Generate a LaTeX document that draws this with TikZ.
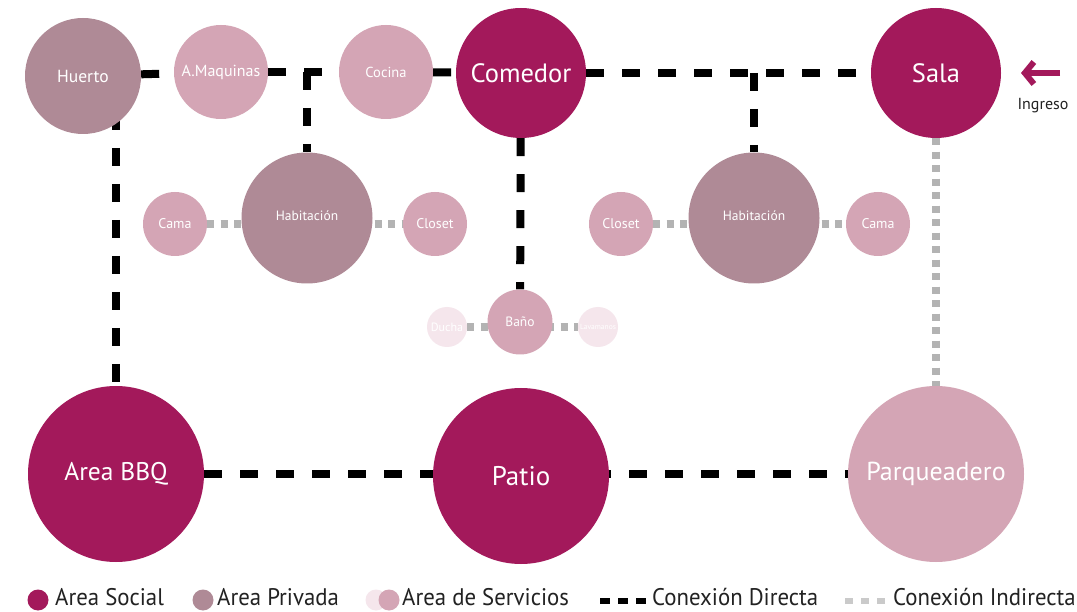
\documentclass[tikz,border=0pt]{standalone}
\usepackage{fontspec}
\setmainfont{PT Sans}
\newfontfamily\legfont[FakeStretch=0.95]{PT Sans}
\usetikzlibrary{arrows.meta,backgrounds}
\definecolor{social}{HTML}{A3195B}
\definecolor{privada}{HTML}{AF8A96}
\definecolor{servicio}{HTML}{D4A5B5}
\definecolor{lite}{HTML}{F5E6EC}
\definecolor{indgray}{HTML}{B3B3B3}
\definecolor{legtxt}{HTML}{222222}
\tikzset{
  fs/.style={font=\fontsize{#1pt}{#1pt}\selectfont},
  room/.style={circle, inner sep=0pt, text=white, align=center},
  soc/.style={room, fill=social},
  priv/.style={room, fill=privada},
  serv/.style={room, fill=servicio},
  lt/.style={room, fill=lite},
  direct/.style={line width=8pt, black, dash pattern=on 18pt off 18pt},
  indirect/.style={line width=8pt, indgray, dash pattern=on 7pt off 6.5pt},
  legtext/.style={anchor=west, inner sep=0pt, text=legtxt, font=\legfont\fontsize{24pt}{24pt}\selectfont},
  legdirect/.style={line width=6pt, black, dash pattern=on 10pt off 8pt},
  legindirect/.style={line width=6pt, indgray!70, dash pattern=on 8pt off 8pt},
}
\begin{document}
\begin{tikzpicture}[x=1pt,y=-1pt]
\useasboundingbox (0,0) rectangle (1077,612);
% rooms
\node[priv, minimum size=116pt, fs=17.5] (huerto) at (83,76) {Huerto};
\node[serv, minimum size=94pt, fs=16] (maq) at (221,72) {A.Maquinas};
\node[serv, minimum size=94pt, fs=14.5] (cocina) at (386,72) {Cocina};
\node[soc, minimum size=130pt, fs=26.5] (comedor) at (521,73) {Comedor};
\node[soc, minimum size=130pt, fs=26.5] (sala) at (936,73) {Sala};
\node[priv, minimum size=131pt, fs=13.5] (hab1) at (307,218) {\raisebox{4pt}{Habitación}};
\node[serv, minimum size=64pt, fs=14] (cama1) at (175,224) {Cama};
\node[serv, minimum size=64pt, fs=14] (closet1) at (435,224) {Closet};
\node[serv, minimum size=64pt, fs=14] (closet2) at (621,224) {Closet};
\node[priv, minimum size=131pt, fs=13.5] (hab2) at (754,218) {\raisebox{4pt}{Habitación}};
\node[serv, minimum size=64pt, fs=14] (cama2) at (878,224) {Cama};
\node[serv, minimum size=65pt, fs=13.5] (bano) at (520,322) {Baño};
\node[lt, minimum size=40pt, fs=12] (ducha) at (447,327) {Ducha};
\node[lt, minimum size=40pt, fs=7.5] (lava) at (598,327) {Lavamanos};
\node[soc, minimum size=176pt, fs=25.5] (bbq) at (116,474) {Area BBQ};
\node[soc, minimum size=176pt, fs=27] (patio) at (521,476) {Patio};
\node[serv, minimum size=176pt, fs=26] (parq) at (936,474) {Parqueadero};
% entrance
\coordinate (ingA) at (1060,73);
\coordinate (ingB) at (1021,73);
\draw[social, line width=6pt, -{Straight Barb[length=9pt, width=22pt]}] (ingA) -- (ingB);
\node[fs=16, text=legtxt] (ingreso) at (1043,106) {Ingreso};
% connectors
\begin{scope}[on background layer]
\fill[white] (0,0) rectangle (1077,612);
\draw[direct] (huerto) -- (maq);
\draw[direct] (maq) -- (cocina);
\draw[direct] (hab1 |- maq) -- (hab1);
\draw[direct] (cocina) -- (comedor);
\draw[direct] (comedor) -- (sala);
\draw[direct] (hab2 |- sala) -- (hab2);
\draw[direct] (comedor) -- (bano);
\draw[direct] (bbq |- huerto) -- (bbq);
\draw[direct] (bbq) -- (patio.center |- bbq);
\draw[direct] (patio.center |- parq) -- (parq);
\draw[indirect] (sala) -- (parq);
\draw[indirect] (cama1) -- (hab1 |- cama1);
\draw[indirect] (hab1 |- closet1) -- (closet1);
\draw[indirect] (closet2) -- (hab2 |- closet2);
\draw[indirect] (hab2 |- cama2) -- (cama2);
\draw[indirect] (ducha) -- (bano |- ducha);
\draw[indirect] (bano |- lava) -- (lava);
\end{scope}
% legend
\node[soc, minimum size=21pt] (lsoc) at (38,600) {};
\node[legtext] (lsoct) at (55,597) {Area Social};
\node[priv, minimum size=21pt] (lpriv) at (203,600) {};
\node[legtext] (lprivt) at (217,597) {Area Privada};
\node[lt, minimum size=21pt] (lserv1) at (376,600) {};
\node[serv, minimum size=21pt] (lserv2) at (389,600) {};
\node[legtext] (lservt) at (402,597) {Area de Servicios};
\coordinate (ld1) at (600,601);
\coordinate (ld2) at (646,601);
\draw[legdirect] (ld1) -- (ld2);
\node[legtext] (ldt) at (652,597) {Conexión Directa};
\coordinate (li1) at (845,601);
\coordinate (li2) at (885,601);
\draw[legindirect] (li1) -- (li2);
\node[legtext] (lit) at (893,597) {Conexión Indirecta};
\end{tikzpicture}
\end{document}
